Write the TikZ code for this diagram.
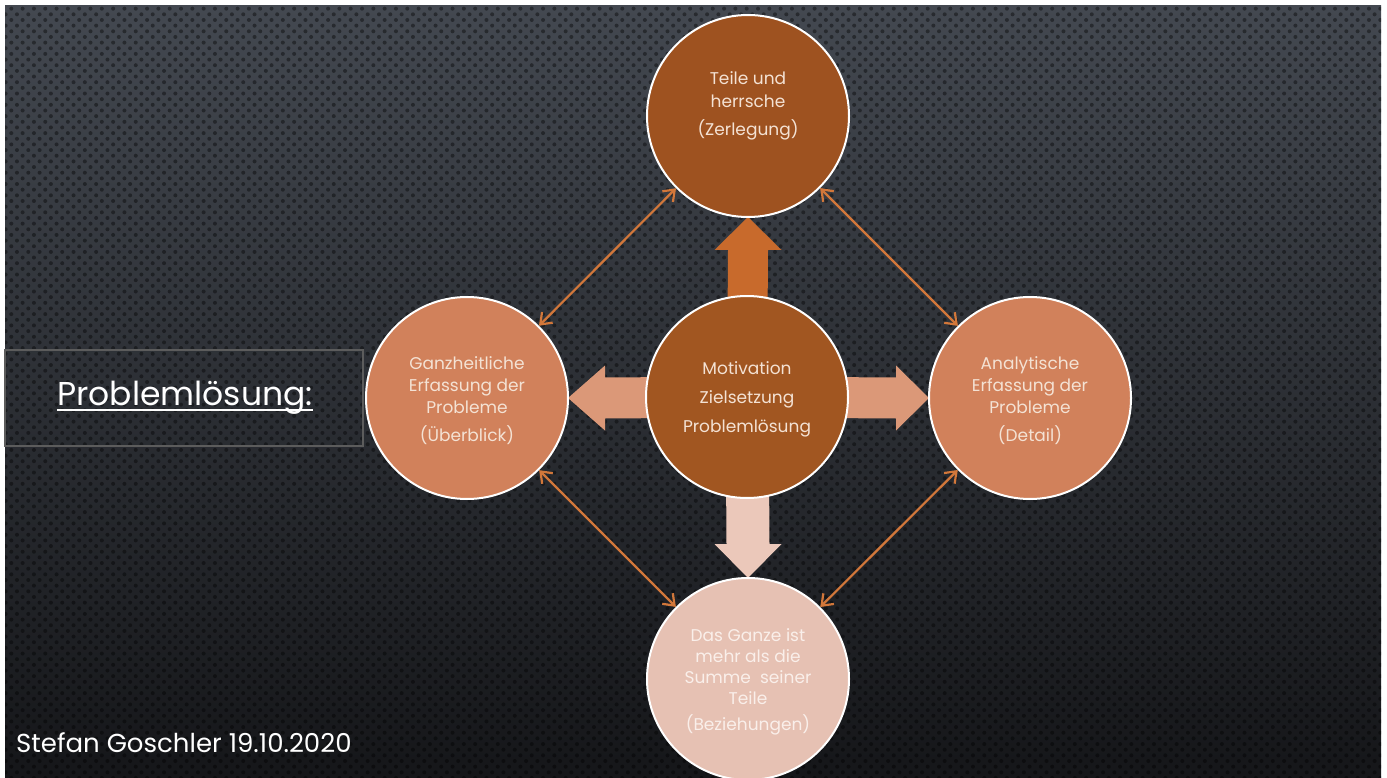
\documentclass[tikz,border=0pt]{standalone}
\usepackage{fontspec}
\setmainfont{Poppins}
\usetikzlibrary{arrows.meta,patterns.meta,calc}
\definecolor{bgtop}{HTML}{434850}
\definecolor{bgmid}{HTML}{2A2D33}
\definecolor{bgbot}{HTML}{151619}
\definecolor{cdark}{HTML}{9E5220}
\definecolor{cmid}{HTML}{A15621}
\definecolor{cside}{HTML}{D1815B}
\definecolor{cbot}{HTML}{E6C1B3}
\definecolor{aup}{HTML}{C86A2C}
\definecolor{aside}{HTML}{DB9878}
\definecolor{adown}{HTML}{EBC8BA}
\definecolor{conn}{HTML}{D2773A}
\definecolor{ctext}{HTML}{F4E2D4}
\definecolor{btext}{HTML}{FAEFEA}
\definecolor{boxline}{HTML}{5C5C5C}
\begin{document}
\begin{tikzpicture}[x=1pt,y=-1pt,
  circ/.style={circle, draw=white, line width=2pt, minimum size=202pt, inner sep=0pt},
  ctxt/.style={text=ctext, align=center, font=\fontsize{17}{23}\selectfont, inner sep=0pt},
  link/.style={draw=conn, line width=2.2pt, {Straight Barb[length=10pt,width=15pt,line width=2.2pt]}-{Straight Barb[length=10pt,width=15pt,line width=2.2pt]}},
]
\useasboundingbox (0,0) rectangle (1387,778);
\fill[white] (0,0) rectangle (1387,778);
\shade[top color=bgtop, middle color=bgmid, bottom color=bgbot] (5,6) rectangle (1381,778);
\fill[pattern={Dots[distance=8pt,radius=2pt,angle=45]}, pattern color=black, fill opacity=0.4] (5,6) rectangle (1381,778);

% circle centres (coordinates)
\coordinate (pT) at (748,116);
\coordinate (pM) at (747,397);
\coordinate (pL) at (467,398);
\coordinate (pR) at (1030,398);
\coordinate (pB) at (748,679);

% block arrows (drawn below circles)
\fill[aup] ($(pT)+(0,101)$) -- ++(33.5,33) -- ++(-13.5,0) -- ($(pM)+(20,0)$) -- ($(pM)+(-20,0)$) -- ($(pT)+(-20,134)$) -- ++(-13.5,0) -- cycle;
\fill[adown] ($(pB)+(0,-101)$) -- ++(33.5,-34) -- ++(-12,0) -- ($(pM)+(21.5,0)$) -- ($(pM)+(-21.5,0)$) -- ($(pB)+(-21.5,-135)$) -- ++(-12,0) -- cycle;
\fill[aside] ($(pL)+(101,0)$) -- ++(37,-32.5) -- ++(0,12) -- ($(pM)+(0,-20.5)$) -- ($(pM)+(0,20.5)$) -- ($(pL)+(138,20.5)$) -- ++(0,12) -- cycle;
\fill[aside] ($(pR)+(-101,0)$) -- ++(-33,-32.5) -- ++(0,12) -- ($(pM)+(0,-20.5)$) -- ($(pM)+(0,20.5)$) -- ($(pR)+(-134,20.5)$) -- ++(0,12) -- cycle;

% circles
\node[circ, fill=cdark] (top) at (pT) {};
\node[circ, fill=cmid] (mid) at (pM) {};
\node[circ, fill=cside] (left) at (pL) {};
\node[circ, fill=cside] (right) at (pR) {};
\node[circ, fill=cbot] (bot) at (pB) {};

% connectors
\draw[link] (top) -- (left);
\draw[link] (top) -- (right);
\draw[link] (bot) -- (left);
\draw[link] (bot) -- (right);

% circle texts (anchor=base is the baseline of the last line)
\node[ctxt, anchor=base] (ttop) at (748,136) {Teile und\\herrsche\\[5pt](Zerlegung)};
\node[ctxt, anchor=base, font=\fontsize{17}{29}\selectfont] (tmid) at (747,432) {Motivation\\Zielsetzung\\Problemlösung};
\node[ctxt, anchor=base, font=\fontsize{17}{22}\selectfont] (tleft) at (467,441) {Ganzheitliche\\Erfassung der\\Probleme\\[6pt](Überblick)};
\node[ctxt, anchor=base, font=\fontsize{17}{22}\selectfont] (tright) at (1030,441) {Analytische\\Erfassung der\\Probleme\\[6pt](Detail)};
\node[ctxt, text=btext, anchor=base, font=\fontsize{17}{21}\selectfont] (tbot) at (748,730) {Das Ganze ist\\mehr als die\\Summe \ seiner\\Teile\\[5pt](Beziehungen)};

% title box
\node[draw=boxline, line width=1.2pt, minimum width=358pt, minimum height=96pt, inner sep=0pt] (tbox) at (184,398) {};
\node[text=white, font=\fontsize{33}{40}\selectfont, inner sep=0pt] (ptxt) at (185,398) {Problemlösung:};
\draw[white, line width=1.6pt] ([yshift=-4pt]ptxt.base west) -- ([yshift=-4pt]ptxt.base east);

% author
\node[text=white, font=\fontsize{26}{31}\selectfont, anchor=base west, inner sep=0pt] (auth) at (16,752) {Stefan Goschler 19.10.2020};
\end{tikzpicture}
\end{document}
